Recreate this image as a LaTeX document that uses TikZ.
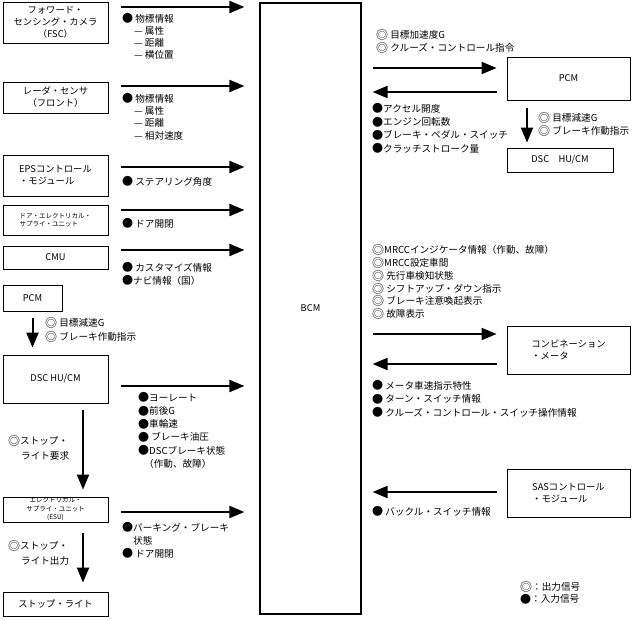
\documentclass[tikz,border=0pt]{standalone}
\usepackage{fontspec}
\setmainfont{Noto Sans CJK JP}
\usetikzlibrary{arrows.meta}
\newcommand\fsn{\fontsize{9.3}{12}\selectfont}
\newcommand\fss{\fontsize{6.5}{8.5}\selectfont}
\newcommand\bdot{\raisebox{-0.06em}{\scalebox{1.15}{●}}}
\newcommand\dcirc{\raisebox{-0.1em}{\scalebox{1.25}{◎}}}
\begin{document}
\begin{tikzpicture}[x=1pt,y=-1pt,
  box/.style={draw,line width=0.8pt,inner sep=0pt,font=\fsn,align=center},
  lbox/.style={box,align=left},
  arr/.style={line width=2pt,-{Triangle[length=15pt,width=12pt]}},
  sig/.style={anchor=north west,inner sep=0pt,align=left,font=\fontsize{9.6}{#1}\selectfont},
  sig/.default=12.5
]
\useasboundingbox (0,0) rectangle (634,620);
% ---------- boxes ----------
\node[box,line width=1.2pt,minimum width=101pt,minimum height=611pt] (bcm) at (310.5,308.5) {BCM};
\node[box,minimum width=105pt,minimum height=41pt] (fsc) at (55.5,22.5) {フォワード・\\センシング・カメラ\\（FSC）};
\node[box,minimum width=105pt,minimum height=31pt] (radar) at (55.5,97.5) {レーダ・センサ\\（フロント）};
\node[lbox,minimum width=105pt,minimum height=41pt] (eps) at (55.5,175.5) {EPSコントロール\\・モジュール};
\node[lbox,font=\fss,minimum width=105pt,minimum height=30pt] (door) at (55.5,220) {ドア・エレクトリカル・\\サプライ・ユニット};
\node[box,minimum width=105pt,minimum height=23pt] (cmu) at (55.5,257.5) {CMU};
\node[box,minimum width=59pt,minimum height=26pt] (pcmL) at (32.5,298) {PCM};
\node[box,minimum width=105pt,minimum height=48pt] (dscL) at (55.5,379) {DSC HU/CM};
\node[box,font=\fss,minimum width=105pt,minimum height=25pt] (esu) at (55.5,509.5) {エレクトリカル・\\サプライ・ユニット\\(ESU)};
\node[box,minimum width=105pt,minimum height=24pt] (stop) at (55.5,604) {ストップ・ライト};
\node[box,minimum width=123pt,minimum height=43pt] (pcmR) at (568.5,78.5) {PCM};
\node[box,minimum width=106pt,minimum height=24pt] (dscR) at (560,160) {DSC　HU/CM};
\node[lbox,minimum width=123pt,minimum height=48pt] (comb) at (568.5,350) {コンビネーション\\・メータ};
\node[lbox,minimum width=123pt,minimum height=48pt] (sas) at (568.5,493) {SASコントロール\\・モジュール};
% ---------- row / column levels ----------
\coordinate (r1) at (0,7);
\coordinate (r2) at (0,86);
\coordinate (r3) at (0,167);
\coordinate (r4) at (0,210);
\coordinate (r5) at (0,250);
\coordinate (r6) at (0,386);
\coordinate (r7) at (0,512);
\coordinate (q1) at (0,68);
\coordinate (q2) at (0,92);
\coordinate (q3) at (0,334);
\coordinate (q4) at (0,364);
\coordinate (q5) at (0,492);
\coordinate (c1) at (83,0);
\coordinate (c2) at (527,0);
% ---------- arrows to BCM ----------
\foreach \b/\r in {fsc/r1,radar/r2,eps/r3,door/r4,cmu/r5,dscL/r6,esu/r7}
  \draw[arr,shorten <=13pt,shorten >=15pt] (\b.east|-\r) -- (bcm.west|-\r);
% vertical arrows left
\draw[arr,shorten <=7pt,shorten >=7pt] (pcmL.south) -- (dscL.north-|pcmL.south);
\draw[arr,shorten <=7pt,shorten >=7pt] (dscL.south-|c1) -- (esu.north-|c1);
\draw[arr,shorten <=11pt,shorten >=9pt] (esu.south-|c1) -- (stop.north-|c1);
% right side
\draw[arr,shorten <=11pt,shorten >=10pt] (bcm.east|-q1) -- (pcmR.west|-q1);
\draw[arr,shorten <=10pt,shorten >=11pt] (pcmR.west|-q2) -- (bcm.east|-q2);
\draw[arr,shorten <=8pt,shorten >=5pt] (pcmR.south-|c2) -- (dscR.north-|c2);
\draw[arr,shorten <=11pt,shorten >=10pt] (bcm.east|-q3) -- (comb.west|-q3);
\draw[arr,shorten <=10pt,shorten >=11pt] (comb.west|-q4) -- (bcm.east|-q4);
\draw[arr,shorten <=10pt,shorten >=11pt] (sas.west|-q5) -- (bcm.east|-q5);
% ---------- signal texts ----------
\node[sig=12] (t1) at (122,13.5) {\bdot{} 物標情報\\\hspace*{12pt}— 属性\\\hspace*{12pt}— 距離\\\hspace*{12pt}— 横位置};
\node[sig=12.3] (t2) at (122,93.5) {\bdot{} 物標情報\\\hspace*{12pt}— 属性\\\hspace*{12pt}— 距離\\\hspace*{12pt}— 相対速度};
\node[sig] (t3) at (122,176.5) {\bdot{} ステアリング角度};
\node[sig] (t4) at (122,218.5) {\bdot{} ドア開閉};
\node[sig=13] (t5) at (122,262.5) {\bdot{} カスタマイズ情報\\\bdot{}ナビ情報（国）};
\node[sig=13.5] (t6) at (45,317.5) {\dcirc{} 目標減速G\\\dcirc{} ブレーキ作動指示};
\node[sig=13.2] (t7) at (138,392.5) {\bdot{}ヨーレート\\\bdot{}前後G\\\bdot{}車輪速\\\bdot{} ブレーキ油圧\\\bdot{}DSCブレーキ状態\\\hspace*{6pt}（作動、故障）};
\node[sig=15] (t8) at (8,435.5) {\dcirc{}ストップ・\\\hspace*{13pt}ライト要求};
\node[sig=13] (t9) at (122,522.5) {\bdot{}パーキング・ブレーキ\\\hspace*{11pt}状態\\\bdot{} ドア開閉};
\node[sig=15] (t10) at (8,540.5) {\dcirc{}ストップ・\\\hspace*{13pt}ライト出力};
\node[sig=13] (t11) at (376,29.5) {\dcirc{} 目標加速度G\\\dcirc{} クルーズ・コントロール指令};
\node[sig=13.3] (t12) at (372,103.5) {\bdot{}アクセル開度\\\bdot{}エンジン回転数\\\bdot{}ブレーキ・ペダル・スイッチ\\\bdot{}クラッチストローク量};
\node[sig=13] (t13) at (538,112.5) {\dcirc{} 目標減速G\\\dcirc{} ブレーキ作動指示};
\node[sig=12.8] (t14) at (372,244.5) {\dcirc{}MRCCインジケータ情報（作動、故障）\\\dcirc{}MRCC設定車間\\\dcirc{} 先行車検知状態\\\dcirc{} シフトアップ・ダウン指示\\\dcirc{} ブレーキ注意喚起表示\\\dcirc{} 故障表示};
\node[sig=13.5] (t15) at (372,380.5) {\bdot{} メータ車速指示特性\\\bdot{} ターン・スイッチ情報\\\bdot{} クルーズ・コントロール・スイッチ操作情報};
\node[sig] (t16) at (372,506.5) {\bdot{} バックル・スイッチ情報};
\node[sig=12] (leg) at (520,581.5) {\dcirc{}：出力信号\\\bdot{}：入力信号};
\end{tikzpicture}
\end{document}
